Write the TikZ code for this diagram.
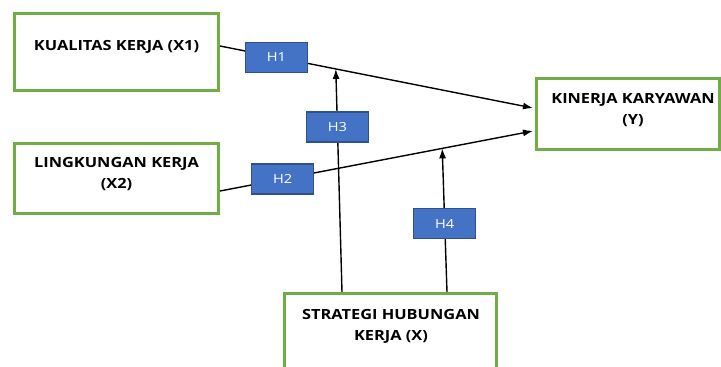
\documentclass[tikz,border=0pt]{standalone}
\usepackage{fontspec}
\setmainfont{Open Sans}[FakeStretch=1.17]
\usetikzlibrary{calc,arrows.meta}

\definecolor{boxgreen}{HTML}{70AD47}
\definecolor{hblue}{HTML}{4472C4}
\definecolor{hborder}{HTML}{2F528F}

\tikzset{
    varbox/.style={draw=boxgreen, line width=3pt, fill=white, inner sep=0pt},
    vartext/.style={align=center, font=\bfseries\fontsize{14}{21}\selectfont},
    hyp/.style={draw=hborder, line width=1.3pt, fill=hblue, text=white,
        font=\fontsize{12.5}{14}\selectfont, minimum width=62, minimum height=30, inner sep=0pt},
    link/.style={line width=1.4pt, -{Latex[length=10pt,width=7pt]}}
}

\begin{document}
\begin{tikzpicture}[x=1pt,y=-1pt]
    \useasboundingbox (0,0) rectangle (721,367);
    \clip (0,0) rectangle (721,367);

    % Kotak variabel
    \node[varbox, minimum width=204, minimum height=77] (x1) at (116.5,51.5) {};
    \node[varbox, minimum width=204, minimum height=70] (x2) at (116.5,178.5) {};
    \node[varbox, minimum width=183, minimum height=71] (y) at (628,114) {};
    \node[varbox, minimum width=212, minimum height=90] (x) at (390.5,338.5) {};

    % Nama variabel
    \node[vartext] at (116.5,47) {KUALITAS KERJA (X1)};
    \node[vartext] at (116.5,174) {LINGKUNGAN KERJA\\(X2)};
    \node[vartext] at (633,110) {KINERJA KARYAWAN\\(Y)};
    \node[vartext] at (391,326) {STRATEGI HUBUNGAN\\KERJA (X)};

    % Titik ujung garis
    \coordinate (s1) at ($(x1.east)+(0,-5.5)$);
    \coordinate (e1) at ($(y.west)+(-2,-6)$);
    \coordinate (s2) at ($(x2.east)+(0,12.5)$);
    \coordinate (e2) at ($(y.west)+(-2,17)$);
    \coordinate (m1) at ($(s1)!0.37!(e1)$);
    \coordinate (m2) at ($(s2)!0.71!(e2)$);
    \coordinate (s3) at ($(x.north)+(-48.5,0)$);
    \coordinate (s4) at ($(x.north)+(56.5,0)$);

    % Hipotesis
    \draw[link] (s1) -- node[hyp, pos=0.18] (h1) {H1} (e1);
    \draw[link] (s2) -- node[hyp, pos=0.2] (h2) {H2} (e2);
    \draw[link] (s3) -- node[hyp, pos=0.74] (h3) {H3} (m1);
    \draw[link] (s4) -- node[hyp, pos=0.475] (h4) {H4} (m2);
\end{tikzpicture}
\end{document}
